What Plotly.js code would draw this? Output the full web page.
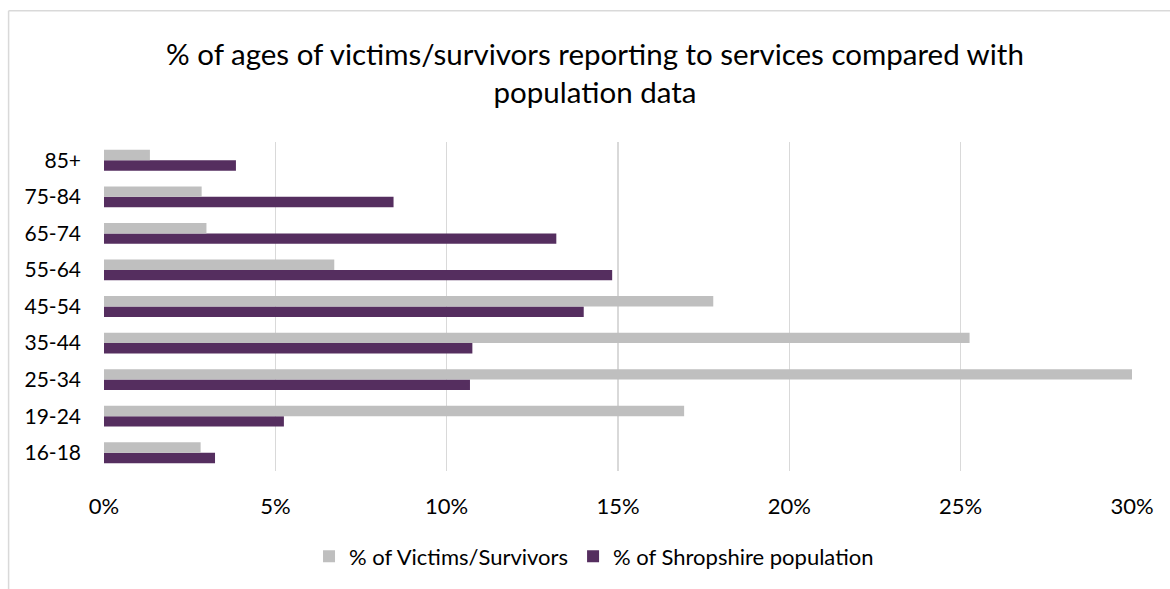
<!DOCTYPE html>
<html>
<head>
<meta charset="utf-8">
<script src="https://cdn.plot.ly/plotly-3.0.1.min.js"></script>
<style>html,body{margin:0;padding:0;background:#fff;}#chart{width:1170px;height:589px;}</style>
</head>
<body>
<div id="chart"></div>
<script>
var ageGroups = ['16-18','19-24','25-34','35-44','45-54','55-64','65-74','75-84','85+'];
var victimsPct = [0.0282, 0.1693, 0.3005, 0.2526, 0.1778, 0.0672, 0.0299, 0.0285, 0.0134];
var populationPct = [0.0324, 0.0525, 0.1068, 0.1075, 0.1400, 0.1483, 0.1320, 0.0845, 0.0385];
var xTickVals = [0, 0.05, 0.10, 0.15, 0.20, 0.25, 0.30];
var xTickText = ['0%','5%','10%','15%','20%','25%','30%'];
var seriesNames = ['% of Victims/Survivors', '% of Shropshire population'];

var FONT = 'Lato, Carlito, Calibri, "Open Sans", sans-serif';

var traces = [
  {type:'bar', orientation:'h', name: seriesNames[1], y: ageGroups, x: populationPct,
   marker:{color:'#552e5f', line:{width:0}}, hoverinfo:'x+y+name'},
  {type:'bar', orientation:'h', name: seriesNames[0], y: ageGroups, x: victimsPct,
   marker:{color:'#bfbfbf', line:{width:0}}, hoverinfo:'x+y+name'}
];

var L = 103.5, R = 1132.5, T = 142, B = 473;
var pw = R - L, ph = B - T;

var layout = {
  width:1170, height:589,
  margin:{l:L, r:1170-R, t:T, b:589-B, pad:0},
  paper_bgcolor:'#ffffff', plot_bgcolor:'#ffffff',
  font:{family:FONT, color:'#000000', size:22},
  title:{text:'% of ages of victims/survivors reporting to services compared with<br>population data',
         x:595/1170, xref:'container', xanchor:'center', y:1-65/589, yref:'container', yanchor:'middle',
         font:{family:FONT, size:29.5, color:'#000000'}},
  barmode:'group', bargap:0.43, bargroupgap:0,
  showlegend:true,
  legend:{orientation:'h', traceorder:'reversed', x:(594-L)/pw, xanchor:'center',
          y:(B-559)/ph, yanchor:'middle', font:{family:FONT, size:22, color:'#000'},
          itemwidth:30},
  xaxis:{range:[0,0.30], tickvals:xTickVals, ticktext:xTickText, showgrid:true,
         gridcolor:'#d9d9d9', gridwidth:1.5, zeroline:false, showline:false, ticks:'',
         ticklabelstandoff:20, fixedrange:true, tickfont:{family:FONT, size:22}},
  yaxis:{type:'category', categoryorder:'array', categoryarray:ageGroups, showgrid:false,
         zeroline:false, showline:false, ticks:'', ticklabelstandoff:22, fixedrange:true,
         tickfont:{family:FONT, size:21}},
  shapes:[
    {type:'line', xref:'paper', yref:'paper', x0:(8-L)/pw, x1:(1175-L)/pw, y0:(B-10)/ph, y1:(B-10)/ph,
     line:{color:'#d9d9d9', width:1.5}},
    {type:'line', xref:'paper', yref:'paper', x0:(8-L)/pw, x1:(8-L)/pw, y0:(B-10)/ph, y1:(B-600)/ph,
     line:{color:'#d9d9d9', width:1.5}}
  ]
};

Plotly.newPlot('chart', traces, layout, {displayModeBar:false, staticPlot:true});
</script>
</body>
</html>
